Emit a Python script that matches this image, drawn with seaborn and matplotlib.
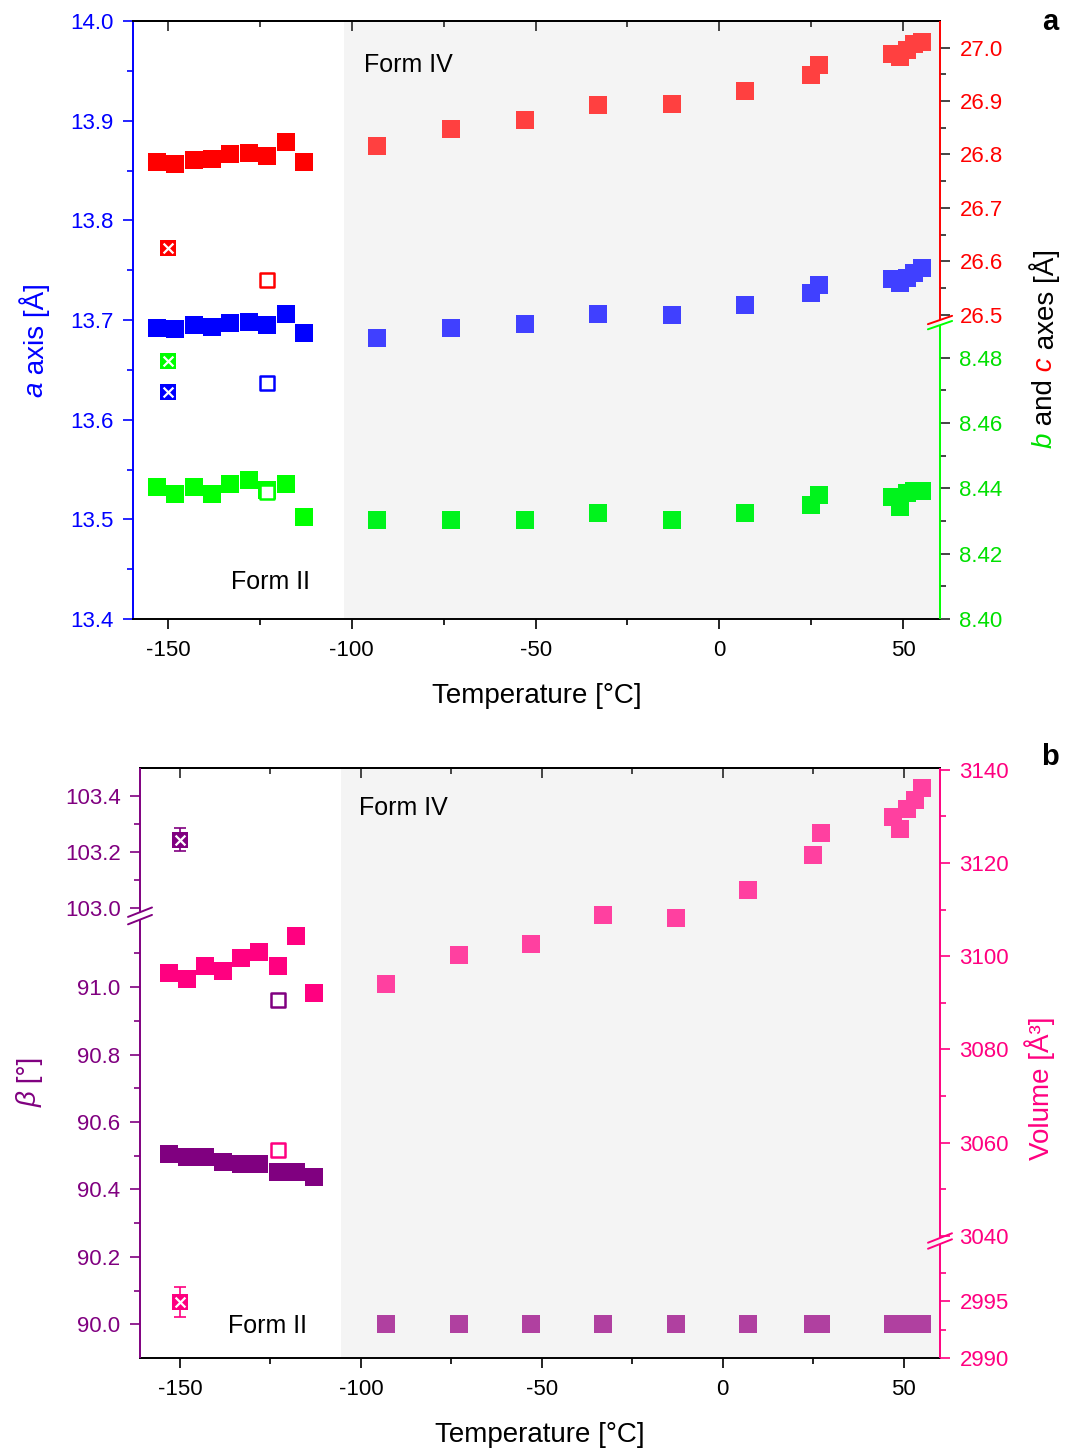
import numpy as np
import pandas as pd
import matplotlib
matplotlib.use('Agg')
import matplotlib.pyplot as plt
import seaborn as sns
from matplotlib.ticker import MultipleLocator, FixedLocator

sns.set_style('ticks')
plt.rcParams['font.family'] = ['Liberation Sans', 'DejaVu Sans']
plt.rcParams['axes.unicode_minus'] = False
plt.rcParams['text.color'] = 'black'
plt.rcParams['axes.labelcolor'] = 'black'

# ---------------- data ----------------
T_form2 = [-153, -148, -143, -138, -133, -128, -123, -118, -113]
T_form4 = [-93, -73, -53, -33, -13, 7, 25, 27, 47, 49, 51, 53, 55]
T_cross = [-150]
T_open = [-123]

# panel a : cell axes
a_form2 = [13.692, 13.691, 13.695, 13.693, 13.697, 13.698, 13.695, 13.706, 13.687]
b_form2 = [8.4405, 8.4383, 8.4405, 8.4383, 8.4413, 8.4425, 8.4395, 8.4413, 8.4313]
c_form2 = [26.785, 26.783, 26.789, 26.792, 26.800, 26.803, 26.798, 26.824, 26.786]
a_form4 = [13.682, 13.692, 13.696, 13.706, 13.705, 13.715, 13.727, 13.735,
           13.741, 13.737, 13.742, 13.747, 13.752]
b_form4 = [8.4302, 8.4302, 8.4302, 8.4326, 8.4302, 8.4326, 8.4349, 8.4380,
           8.4375, 8.4344, 8.4385, 8.4393, 8.4393]
c_form4 = [26.816, 26.848, 26.864, 26.892, 26.895, 26.919, 26.949, 26.967,
           26.988, 26.982, 26.996, 27.006, 27.011]
a_cross, b_cross, c_cross = [13.628], [8.479], [26.624]
a_open, b_open, c_open = [13.637], [8.439], [26.564]

# panel b : beta angle and volume
beta_form2 = [90.505, 90.495, 90.495, 90.481, 90.476, 90.476, 90.452, 90.452, 90.436]
beta_form4 = [90.0, 90.0, 90.0, 90.0, 90.0, 90.0, 90.0, 90.0, 90.0, 90.0, 90.0, 90.0, 90.0]
vol_form2 = [3096.4, 3095.1, 3097.8, 3096.8, 3099.7, 3100.8, 3097.8, 3104.4, 3092.0]
vol_form4 = [3094.0, 3100.2, 3102.6, 3108.9, 3108.1, 3114.2, 3121.8, 3126.5,
             3129.9, 3127.2, 3131.5, 3133.6, 3136.1]
beta_cross, beta_cross_err = [103.243], [0.041]
vol_cross, vol_cross_err = [2994.9], [1.3]
beta_open, vol_open = [90.962], [3058.3]

# ticks
x_ticks = [-150, -100, -50, 0, 50]
a_ticks = [13.4, 13.5, 13.6, 13.7, 13.8, 13.9, 14.0]
bc_ticks = [8.40, 8.42, 8.44, 8.46, 8.48, 26.5, 26.6, 26.7, 26.8, 26.9, 27.0]
bc_labels = ['8.40', '8.42', '8.44', '8.46', '8.48', '26.5', '26.6', '26.7', '26.8', '26.9', '27.0']
bc_minor = [8.41, 8.43, 8.45, 8.47, 26.55, 26.65, 26.75, 26.85, 26.95]
beta_ticks = [90.0, 90.2, 90.4, 90.6, 90.8, 91.0, 103.0, 103.2, 103.4]
beta_labels = ['90.0', '90.2', '90.4', '90.6', '90.8', '91.0', '103.0', '103.2', '103.4']
beta_minor = [90.1, 90.3, 90.5, 90.7, 90.9, 91.1, 103.1, 103.3]
vol_ticks = [2990, 2995, 3040, 3060, 3080, 3100, 3120, 3140]
vol_labels = ['2990', '2995', '3040', '3060', '3080', '3100', '3120', '3140']
vol_minor = [2992.5, 2997.5, 3050, 3070, 3090, 3110, 3130]

# colours
BLUE, BLUE4 = '#0000ff', '#4040ff'
RED, RED4 = '#ff0000', '#ff4040'
GREEN, GREEN4, GREEN_TXT = '#00ff00', '#00f31c', '#00e000'
PURPLE, PURPLE4 = '#800080', '#b040a0'
PINK, PINK4 = '#ff0080', '#ff40a0'
SHADE = '#f4f4f4'

FS_TICK = 16
FS_LABEL = 20
FS_FORM = 18


# ---------------- helpers ----------------
def piecewise(x, xp, fp):
    x = np.asarray(x, dtype=float)
    y = np.interp(x, xp, fp)
    s0 = (fp[1] - fp[0]) / (xp[1] - xp[0])
    s1 = (fp[-1] - fp[-2]) / (xp[-1] - xp[-2])
    y = np.where(x < xp[0], fp[0] + (x - xp[0]) * s0, y)
    y = np.where(x > xp[-1], fp[-1] + (x - xp[-1]) * s1, y)
    return y


def broken_scale(v_pts, u_pts):
    # piecewise linear scale -> gives the "broken" axis look
    return (lambda v: piecewise(v, v_pts, u_pts),
            lambda u: piecewise(u, u_pts, v_pts))


def filled(ax, x, y, color, z=3):
    sns.scatterplot(x=x, y=y, ax=ax, marker='s', s=156, color=color,
                    linewidth=0, legend=False, zorder=z)


def open_sq(ax, x, y, color):
    sns.scatterplot(x=x, y=y, ax=ax, marker='s', s=112, facecolor='white',
                    edgecolor=color, linewidth=1.8, legend=False, zorder=4)


def crossed(ax, x, y, color, yerr=None):
    if yerr is not None:
        ax.errorbar(x, y, yerr=yerr, fmt='none', ecolor=color, elinewidth=1.2,
                    capsize=4, capthick=1.2, zorder=3)
    sns.scatterplot(x=x, y=y, ax=ax, marker='s', s=135, color=color,
                    linewidth=0, legend=False, zorder=4)
    sns.scatterplot(x=x, y=y, ax=ax, marker='x', s=50, color='white',
                    linewidth=1.6, legend=False, zorder=5)


def spine_seg(ax, x, u0, u1, color):
    ax.plot([x, x], [u0, u1], transform=ax.transAxes, color=color, lw=1.4,
            clip_on=False, solid_capstyle='butt', zorder=6)


def break_mark(ax, x, u, color, dx, dy):
    ax.plot([x - dx, x + dx], [u - dy, u + dy], transform=ax.transAxes,
            color=color, lw=1.4, clip_on=False, zorder=6)


def style_x(ax, xlim, shade_from):
    ax.axvspan(shade_from, xlim[1], color=SHADE, lw=0, zorder=0)
    ax.set_xlim(*xlim)
    ax.set_xticks(x_ticks)
    ax.xaxis.set_minor_locator(MultipleLocator(25))
    ax.tick_params(axis='x', which='both', direction='out', colors='black',
                   labelsize=FS_TICK, pad=8, width=1.2)
    ax.tick_params(axis='x', which='major', length=7)
    ax.tick_params(axis='x', which='minor', length=4)
    ax.set_xlabel('Temperature [°C]', fontsize=FS_LABEL, labelpad=16)
    top = ax.secondary_xaxis('top')
    top.set_xticks(x_ticks)
    top.xaxis.set_minor_locator(MultipleLocator(25))
    top.tick_params(axis='x', which='both', direction='in', labeltop=False, width=1.2)
    top.tick_params(axis='x', which='major', length=7)
    top.tick_params(axis='x', which='minor', length=4)
    top.spines['top'].set_linewidth(1.4)
    for s in ['top', 'bottom']:
        ax.spines[s].set_linewidth(1.4)
        ax.spines[s].set_color('black')


def stacked_label(fig, ax, x, y_px, pieces):
    prev = None
    for txt, color, style in pieces:
        if prev is None:
            prev = fig.text(x / 1065, 1 - y_px / 1449, txt, color=color, style=style,
                            rotation=90, ha='center', va='bottom', fontsize=FS_LABEL)
        else:
            prev = ax.annotate(txt, xy=(0.5, 1.0), xycoords=prev, color=color,
                               style=style, rotation=90, ha='center', va='bottom',
                               fontsize=FS_LABEL)


def color_ticks(ticks, locs, col_fn):
    for t, v in zip(ticks, locs):
        c = col_fn(v)
        t.tick1line.set_color(c)
        t.tick2line.set_color(c)
        t.label1.set_color(c)
        t.label2.set_color(c)


df2 = pd.DataFrame({'T': T_form2, 'a': a_form2, 'b': b_form2, 'c': c_form2,
                    'beta': beta_form2, 'V': vol_form2})
df4 = pd.DataFrame({'T': T_form4, 'a': a_form4, 'b': b_form4, 'c': c_form4,
                    'beta': beta_form4, 'V': vol_form4})

fig = plt.figure(figsize=(10.65, 14.49), dpi=100)

# ================= panel a =================
ax_a = fig.add_axes([133 / 1065, 1 - 619 / 1449, 807 / 1065, 598 / 1449])
ax_a.set_facecolor('white')
filled(ax_a, df4['T'], df4['a'], BLUE4)
filled(ax_a, df2['T'], df2['a'], BLUE)
open_sq(ax_a, T_open, a_open, BLUE)
crossed(ax_a, T_cross, a_cross, BLUE)
ax_a.set_ylim(13.4, 14.0)
ax_a.set_yticks(a_ticks)
ax_a.set_yticklabels([f'{v:.1f}' for v in a_ticks])
ax_a.yaxis.set_minor_locator(MultipleLocator(0.05))
ax_a.tick_params(axis='y', which='both', colors=BLUE, direction='out',
                 labelsize=FS_TICK, pad=7, width=1.2)
ax_a.tick_params(axis='y', which='major', length=7)
ax_a.tick_params(axis='y', which='minor', length=4)
ax_a.spines['left'].set_color(BLUE)
ax_a.spines['left'].set_linewidth(1.4)
ax_a.spines['right'].set_visible(False)
ax_a.set_ylabel('')
style_x(ax_a, (-159.5, 60), -102)
ax_a.text(-96.6, 13.956, 'Form IV', fontsize=FS_FORM, va='center', ha='left')
ax_a.text(-132.8, 13.437, 'Form II', fontsize=FS_FORM, va='center', ha='left')

ax_bc = ax_a.twinx()
bc_v = [8.40, 8.49, 26.49, 27.05]
bc_u = [0.0, 0.4914, 0.5, 1.0]
ax_bc.set_yscale('function', functions=broken_scale(bc_v, bc_u))
filled(ax_bc, df4['T'], df4['c'], RED4)
filled(ax_bc, df4['T'], df4['b'], GREEN4)
filled(ax_bc, df2['T'], df2['c'], RED)
filled(ax_bc, df2['T'], df2['b'], GREEN)
open_sq(ax_bc, T_open, c_open, RED)
open_sq(ax_bc, T_open, b_open, GREEN)
crossed(ax_bc, T_cross, c_cross, RED)
crossed(ax_bc, T_cross, b_cross, GREEN)
ax_bc.set_ylim(bc_v[0], bc_v[-1])
ax_bc.set_yticks(bc_ticks)
ax_bc.set_yticklabels(bc_labels)
ax_bc.yaxis.set_minor_locator(FixedLocator(bc_minor))
ax_bc.tick_params(axis='y', which='both', direction='out', labelsize=FS_TICK,
                  pad=7, width=1.2)
ax_bc.tick_params(axis='y', which='major', length=7)
ax_bc.tick_params(axis='y', which='minor', length=4)
ax_bc.set_ylabel('')
for s in ax_bc.spines.values():
    s.set_visible(False)
color_ticks(ax_bc.yaxis.get_major_ticks(), bc_ticks,
            lambda v: GREEN_TXT if v < 20 else RED)
color_ticks(ax_bc.yaxis.get_minor_ticks(), bc_minor,
            lambda v: GREEN_TXT if v < 20 else RED)
spine_seg(ax_bc, 1, 0, bc_u[1], GREEN)
spine_seg(ax_bc, 1, bc_u[2], 1, RED)
break_mark(ax_bc, 1, bc_u[1], GREEN, 0.015, 0.007)
break_mark(ax_bc, 1, bc_u[2], RED, 0.015, 0.007)

stacked_label(fig, ax_a, 35, 397, [('a', BLUE, 'italic'), (' axis [Å]', BLUE, 'normal')])
stacked_label(fig, ax_a, 1045, 448, [('b', GREEN_TXT, 'italic'), (' and', 'black', 'normal'),
                                     (' c', RED, 'italic'), (' axes [Å]', 'black', 'normal')])
fig.text(1050 / 1065, 1 - 22 / 1449, 'a', fontsize=21, fontweight='bold',
         ha='center', va='center')

# ================= panel b =================
ax_b = fig.add_axes([140 / 1065, 1 - 1358 / 1449, 800 / 1065, 590 / 1449])
ax_b.set_facecolor('white')
beta_v = [89.9, 91.2, 102.985, 103.5]
beta_u = [0.0, 0.743, 0.7556, 1.0]
ax_b.set_yscale('function', functions=broken_scale(beta_v, beta_u))
filled(ax_b, df4['T'], df4['beta'], PURPLE4)
filled(ax_b, df2['T'], df2['beta'], PURPLE)
open_sq(ax_b, T_open, beta_open, PURPLE)
crossed(ax_b, T_cross, beta_cross, PURPLE, yerr=beta_cross_err)
ax_b.set_ylim(beta_v[0], beta_v[-1])
ax_b.set_yticks(beta_ticks)
ax_b.set_yticklabels(beta_labels)
ax_b.yaxis.set_minor_locator(FixedLocator(beta_minor))
ax_b.tick_params(axis='y', which='both', colors=PURPLE, direction='out',
                 labelsize=FS_TICK, pad=7, width=1.2)
ax_b.tick_params(axis='y', which='major', length=7)
ax_b.tick_params(axis='y', which='minor', length=4)
ax_b.spines['left'].set_visible(False)
ax_b.spines['right'].set_visible(False)
ax_b.set_ylabel('')
style_x(ax_b, (-161, 60), -105.5)
spine_seg(ax_b, 0, 0, beta_u[1], PURPLE)
spine_seg(ax_b, 0, beta_u[2], 1, PURPLE)
break_mark(ax_b, 0, beta_u[1], PURPLE, 0.015, 0.008)
break_mark(ax_b, 0, beta_u[2], PURPLE, 0.015, 0.008)
ax_b.text(-100.6, 0.932, 'Form IV', fontsize=FS_FORM, va='center', ha='left',
          transform=ax_b.get_xaxis_transform())
ax_b.text(-136.7, 0.054, 'Form II', fontsize=FS_FORM, va='center', ha='left',
          transform=ax_b.get_xaxis_transform())

ax_v = ax_b.twinx()
vol_v = [2990, 3000, 3039.5, 3140.4]
vol_u = [0.0, 0.1932, 0.2034, 1.0]
ax_v.set_yscale('function', functions=broken_scale(vol_v, vol_u))
filled(ax_v, df4['T'], df4['V'], PINK4)
filled(ax_v, df2['T'], df2['V'], PINK)
open_sq(ax_v, T_open, vol_open, PINK)
crossed(ax_v, T_cross, vol_cross, PINK, yerr=vol_cross_err)
ax_v.set_ylim(vol_v[0], vol_v[-1])
ax_v.set_yticks(vol_ticks)
ax_v.set_yticklabels(vol_labels)
ax_v.yaxis.set_minor_locator(FixedLocator(vol_minor))
ax_v.tick_params(axis='y', which='both', colors=PINK, direction='out',
                 labelsize=FS_TICK, pad=7, width=1.2)
ax_v.tick_params(axis='y', which='major', length=7)
ax_v.tick_params(axis='y', which='minor', length=4)
ax_v.set_ylabel('')
for s in ax_v.spines.values():
    s.set_visible(False)
spine_seg(ax_v, 1, 0, vol_u[1], PINK)
spine_seg(ax_v, 1, vol_u[2], 1, PINK)
break_mark(ax_v, 1, vol_u[1], PINK, 0.015, 0.008)
break_mark(ax_v, 1, vol_u[2], PINK, 0.015, 0.008)

stacked_label(fig, ax_b, 30, 1107, [('β', PURPLE, 'italic'), (' [°]', PURPLE, 'normal')])
stacked_label(fig, ax_b, 1040, 1160, [('Volume [Å³]', PINK, 'normal')])
fig.text(1050 / 1065, 1 - 757 / 1449, 'b', fontsize=21, fontweight='bold',
         ha='center', va='center')

fig.savefig('out.png', dpi=100)
